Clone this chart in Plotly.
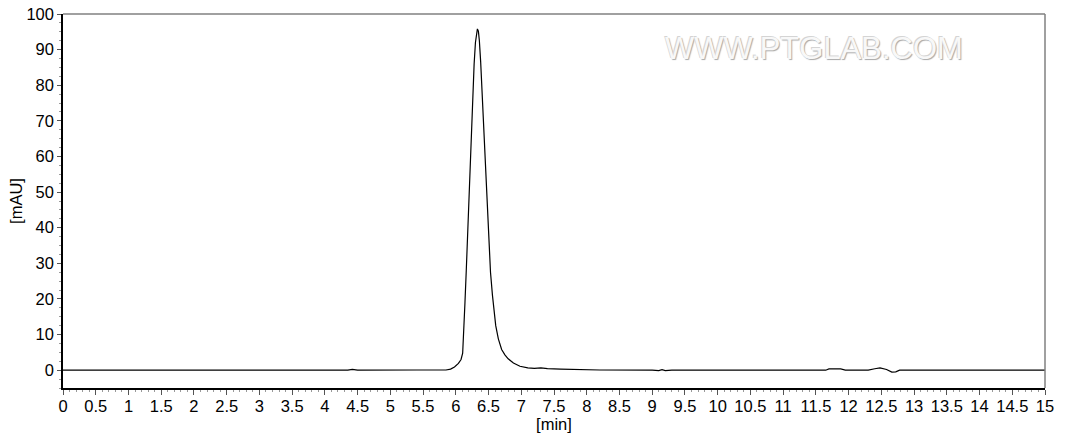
import plotly.graph_objects as go

# chromatogram trace (time in min, signal in mAU)
time_min = [
    0.0, 4.35, 4.42, 4.5, 5.4, 5.85, 5.92, 5.98, 6.04, 6.08,
    6.105, 6.125, 6.14, 6.16, 6.18, 6.20, 6.22, 6.24, 6.26, 6.28,
    6.30, 6.315, 6.33, 6.345, 6.36, 6.38, 6.40, 6.42, 6.44, 6.46,
    6.48, 6.50, 6.53, 6.56, 6.58, 6.61, 6.65, 6.70, 6.75, 6.80,
    6.88, 6.98, 7.1, 7.2, 7.3, 7.4, 7.6, 7.8, 8.2, 9.0,
    9.1, 9.15, 9.2, 9.3, 11.65, 11.7, 11.88, 11.95, 12.3, 12.4,
    12.48, 12.58, 12.66, 12.72, 12.78, 15.0,
]
signal_mau = [
    0.0, 0.0, 0.25, 0.0, 0.05, 0.05, 0.3, 0.9, 1.9, 3.0,
    4.8, 11.0, 19.0, 28.0, 38.0, 48.5, 59.0, 69.0, 78.0, 86.0,
    92.0, 94.8, 95.8, 95.2, 92.5, 86.5, 78.5, 70.0, 61.0, 52.0,
    43.5, 36.0, 27.5, 21.0, 17.0, 12.5, 8.8, 5.8, 4.3, 3.2,
    2.0, 1.1, 0.65, 0.5, 0.65, 0.45, 0.3, 0.15, 0.05, 0.0,
    -0.1, 0.15, -0.1, 0.0, 0.0, 0.35, 0.35, 0.0, 0.0, 0.4,
    0.65, 0.2, -0.55, -0.45, 0.0, 0.0,
]

x_ticks = [i * 0.5 for i in range(31)]
x_tick_labels = ["%g" % v for v in x_ticks]
y_ticks = list(range(0, 101, 10))

TICK_FONT = {"family": "Liberation Sans, Arial, sans-serif", "size": 16.5, "color": "#000"}

fig = go.Figure()
fig.add_trace(
    go.Scatter(
        x=time_min,
        y=signal_mau,
        mode="lines",
        line={"color": "#000", "width": 1.2},
        hoverinfo="x+y",
        showlegend=False,
    )
)

fig.update_xaxes(
    range=[0, 15],
    tickmode="array",
    tickvals=x_ticks,
    ticktext=x_tick_labels,
    ticks="outside",
    ticklen=5,
    tickcolor="#555",
    minor={"dtick": 0.1, "ticks": "outside", "ticklen": 2, "tickcolor": "#999"},
    ticklabelstandoff=-3,
    showline=True,
    linecolor="#000",
    linewidth=1.5,
    showgrid=False,
    zeroline=False,
    automargin=False,
    tickfont=TICK_FONT,
    title={"text": "[min]", "font": TICK_FONT, "standoff": 0},
)
fig.update_yaxes(
    range=[-5, 100],
    tickmode="array",
    tickvals=y_ticks,
    ticks="outside",
    ticklen=4,
    tickcolor="#555",
    minor={"dtick": 2.5, "ticks": "outside", "ticklen": 2, "tickcolor": "#999"},
    showline=True,
    linecolor="#000",
    linewidth=1.5,
    showgrid=False,
    zeroline=False,
    automargin=False,
    tickfont=TICK_FONT,
    title={"text": "[mAU]", "font": TICK_FONT, "standoff": 0},
)

# grey frame on the top and right, like the instrument export
for x0, y0, x1, y1 in [(0, 1, 1, 1), (1, 0, 1, 1)]:
    fig.add_shape(
        type="line", xref="paper", yref="paper",
        x0=x0, y0=y0, x1=x1, y1=y1,
        line={"color": "#808080", "width": 1.5},
    )

fig.add_annotation(
    text="WWW.PTGLAB.COM",
    xref="paper", yref="paper",
    x=0.765, y=0.909,
    xanchor="center", yanchor="middle",
    showarrow=False,
    font={
        "family": "Liberation Sans, Arial, sans-serif",
        "size": 31,
        "color": "#f8f8f8",
        "shadow": "-1px -1px 0px #d4d4d4, 1px 1px 1px #a8a8a8",
    },
)

fig.update_layout(
    width=1068,
    height=439,
    plot_bgcolor="#fff",
    paper_bgcolor="#fff",
    margin={"l": 63, "r": 23, "t": 14, "b": 51},
)

# drop the default 8px body margin so the figure sits flush in the window
fig.write_html(
    "out.html",
    config={"displayModeBar": False},
    post_script="document.body.style.margin = '0';",
)
